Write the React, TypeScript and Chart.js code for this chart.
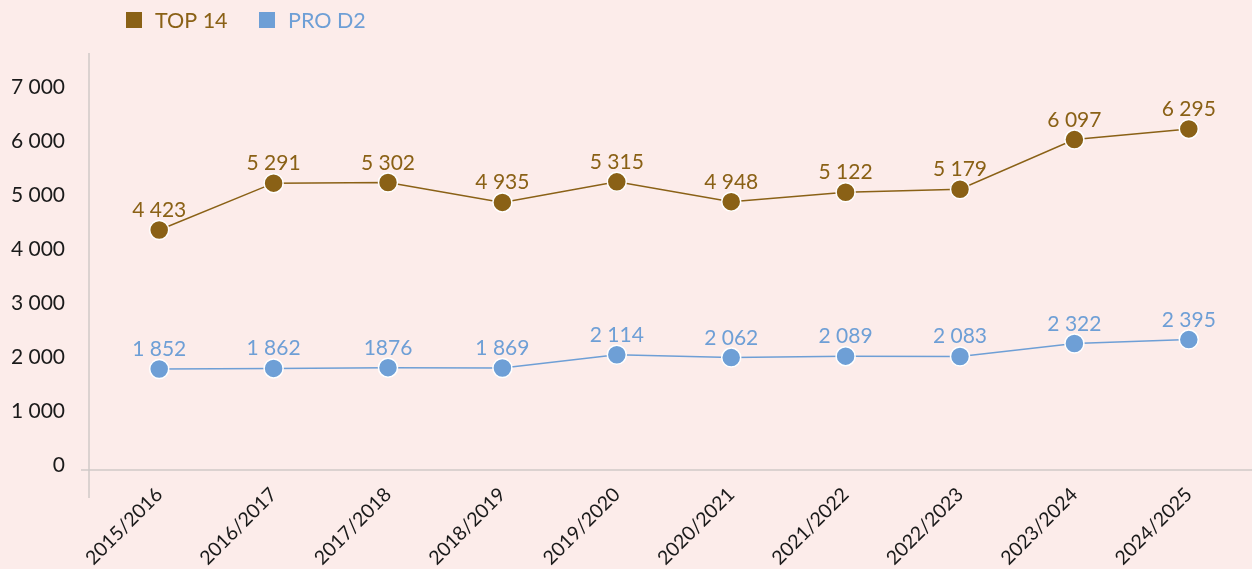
import React, { useEffect, useRef } from "react";
import { Chart, registerables } from "chart.js";

Chart.register(...registerables);

const seasons = [
  "2015/2016", "2016/2017", "2017/2018", "2018/2019", "2019/2020",
  "2020/2021", "2021/2022", "2022/2023", "2023/2024", "2024/2025",
];
const top14 = [4423, 5291, 5302, 4935, 5315, 4948, 5122, 5179, 6097, 6295];
const proD2 = [1852, 1862, 1876, 1869, 2114, 2062, 2089, 2083, 2322, 2395];
const top14Labels = ["4 423", "5 291", "5 302", "4 935", "5 315", "4 948", "5 122", "5 179", "6 097", "6 295"];
const proD2Labels = ["1 852", "1 862", "1876", "1 869", "2 114", "2 062", "2 089", "2 083", "2 322", "2 395"];
const seriesNames = ["TOP 14", "PRO D2"];
const yTicks = [0, 1000, 2000, 3000, 4000, 5000, 6000, 7000];

const BROWN = "#8a6116";
const BLUE = "#6e9fd6";
const BG = "#fcecea";
const FONT = "Lato, 'Noto Sans', sans-serif";

export default function App() {
  const ref = useRef<HTMLCanvasElement | null>(null);
  useEffect(() => {
    document.body.style.margin = "0";
    const canvas = ref.current!;
    const valueLabels = [top14Labels, proD2Labels];

    const deco = {
      id: "deco",
      beforeDraw(chart: any) {
        const { ctx } = chart;
        ctx.save();
        ctx.fillStyle = BG;
        ctx.fillRect(0, 0, chart.width, chart.height);
        ctx.restore();
      },
      beforeDatasetsDraw(chart: any) {
        const { ctx } = chart;
        const y0 = chart.scales.y.getPixelForValue(0);
        ctx.save();
        ctx.strokeStyle = "#cfc9c8";
        ctx.lineWidth = 1.5;
        ctx.beginPath();
        ctx.moveTo(89, chart.chartArea.top);
        ctx.lineTo(89, 498);
        ctx.moveTo(81, y0 + 1);
        ctx.lineTo(chart.width, y0 + 1);
        ctx.stroke();
        ctx.restore();
      },
      afterDatasetsDraw(chart: any) {
        const { ctx } = chart;
        ctx.save();
        ctx.font = `21px ${FONT}`;
        ctx.textAlign = "center";
        ctx.textBaseline = "alphabetic";
        chart.data.datasets.forEach((ds: any, di: number) => {
          const meta = chart.getDatasetMeta(di);
          ctx.fillStyle = ds.borderColor;
          meta.data.forEach((pt: any, i: number) => {
            ctx.fillText(valueLabels[di][i], pt.x, pt.y - 13);
          });
        });
        // legend
        ctx.font = `21.5px ${FONT}`;
        ctx.textAlign = "left";
        ctx.textBaseline = "middle";
        const legendX = [126, 259];
        chart.data.datasets.forEach((ds: any, di: number) => {
          ctx.fillStyle = ds.borderColor;
          ctx.fillRect(legendX[di], 12, 16, 16);
          ctx.fillText(ds.label, legendX[di] + 29, 21);
        });
        ctx.restore();
      },
    };

    const chart = new Chart(canvas, {
      type: "line",
      data: {
        labels: seasons,
        datasets: [
          {
            label: seriesNames[0],
            data: top14,
            borderColor: BROWN,
            backgroundColor: BROWN,
            pointBackgroundColor: BROWN,
            pointBorderColor: "#ffffff",
            pointBorderWidth: 1.5,
            pointRadius: 9.5,
            borderWidth: 1.5,
            tension: 0,
          },
          {
            label: seriesNames[1],
            data: proD2,
            borderColor: BLUE,
            backgroundColor: BLUE,
            pointBackgroundColor: BLUE,
            pointBorderColor: "#ffffff",
            pointBorderWidth: 1.5,
            pointRadius: 9.5,
            borderWidth: 1.5,
            tension: 0,
          },
        ],
      },
      options: {
        animation: false,
        responsive: false,
        devicePixelRatio: 1,
        layout: { autoPadding: false, padding: { top: 53, right: 6, left: 0, bottom: 0 } },
        plugins: {
          legend: { display: false },
          tooltip: { enabled: false },
        },
        scales: {
          x: {
            type: "category",
            offset: true,
            grid: { display: false, drawTicks: false },
            border: { display: false },
            ticks: {
              color: "#1a1a1a",
              font: { family: FONT, size: 19.5 },
              maxRotation: 45,
              minRotation: 45,
              padding: 14,
              autoSkip: false,
            },
            afterFit(scale: any) {
              scale.height = 100;
            },
          },
          y: {
            min: 0,
            max: 7700,
            afterBuildTicks(scale: any) {
              scale.ticks = yTicks.map((v) => ({ value: v }));
            },
            grid: { display: false, drawTicks: false },
            border: { display: false },
            ticks: {
              color: "#1a1a1a",
              font: { family: FONT, size: 21 },
              padding: 37,
              labelOffset: -4,
              callback: (v: any) => {
                const n = Number(v);
                return n >= 1000 ? `${Math.floor(n / 1000)} ${String(n % 1000).padStart(3, "0")}` : String(n);
              },
            },
            afterFit(scale: any) {
              scale.width = 102;
            },
          },
        },
      },
      plugins: [deco],
    } as any);
    return () => chart.destroy();
  }, []);

  return (
    <div style={{ width: 1252, height: 569, background: BG }}>
      <canvas ref={ref} width={1252} height={569} style={{ display: "block" }} />
    </div>
  );
}
